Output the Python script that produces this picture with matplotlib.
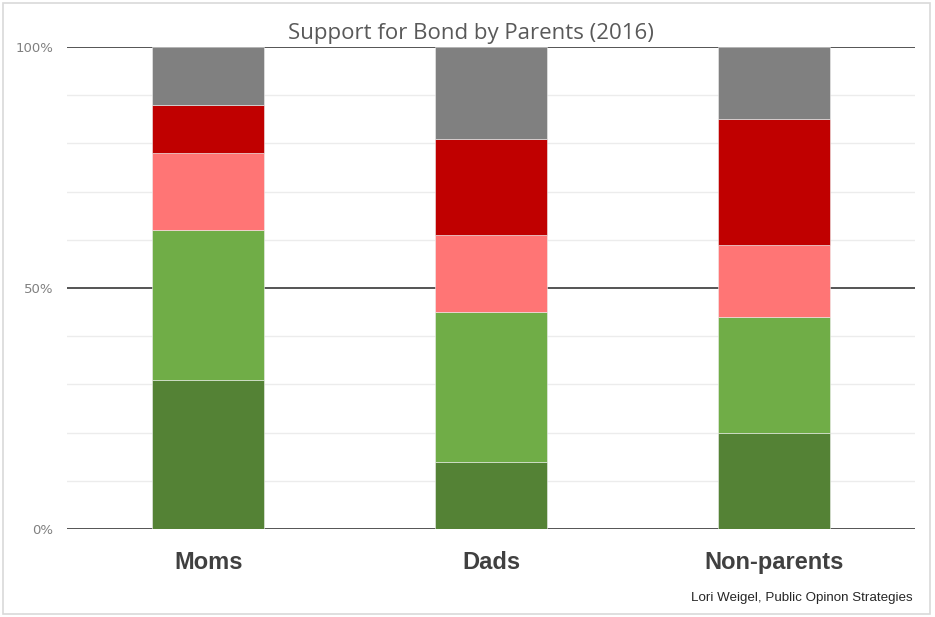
import matplotlib
matplotlib.use("Agg")
import matplotlib.pyplot as plt
from matplotlib.patches import Rectangle
import numpy as np

# Survey data: share of each group (percent), stacked bottom to top
categories = ["Moms", "Dads", "Non-parents"]
strongly_support = [31, 14, 20]
somewhat_support = [31, 31, 24]
somewhat_oppose = [16, 16, 15]
strongly_oppose = [10, 20, 26]
undecided = [12, 19, 15]

series = [strongly_support, somewhat_support, somewhat_oppose, strongly_oppose, undecided]
colors = ["#548235", "#70AD47", "#FF7575", "#C00000", "#808080"]

y_ticks = [0, 50, 100]
y_tick_labels = ["0%", "50%", "100%"]

title = "Support for Bond by Parents (2016)"
source = "Lori Weigel, Public Opinon Strategies"

fig = plt.figure(figsize=(9.35, 6.17), dpi=100)
ax = fig.add_axes([0.0717, 0.1426, 0.9069, 0.7812])

x = np.arange(len(categories))
bottom = np.zeros(len(categories))
for vals, col in zip(series, colors):
    ax.bar(x, vals, bottom=bottom, width=0.396, color=col,
           edgecolor="#eeeeee", linewidth=0.4, zorder=3)
    bottom += np.array(vals)

# light minor gridlines every 10%, dark major lines at 0/50/100
for v in range(10, 100, 10):
    if v != 50:
        ax.axhline(v, color="#ececec", linewidth=1.0, zorder=1)
for v in y_ticks:
    ax.axhline(v, color="#262626", linewidth=1.1, zorder=2)

ax.set_xlim(-0.5, len(categories) - 0.5)
ax.set_ylim(0, 100)
ax.set_yticks(y_ticks)
ax.set_yticklabels(y_tick_labels, fontsize=9.5, color="#808080", family="DejaVu Sans")
ax.tick_params(axis="y", length=0, pad=10)
ax.set_xticks(x)
ax.set_xticklabels(categories, fontsize=17, fontweight="bold", color="#404040",
                   family="Liberation Sans")
ax.tick_params(axis="x", length=0, pad=16)
for s in ax.spines.values():
    s.set_visible(False)

fig.text(0.5035, 1 - 33 / 617, title, ha="center", va="center",
         fontsize=16, color="#595959", family="Open Sans")
fig.text(913 / 935, 1 - 598 / 617, source, ha="right", va="center",
         fontsize=9.6, color="#262626",
         family=["Liberation Sans Narrow", "Liberation Sans"])

# outer chart border
fig.patches.append(Rectangle((3 / 935, 3 / 617), 927 / 935, 611 / 617,
                             transform=fig.transFigure, fill=False,
                             edgecolor="#d9d9d9", linewidth=1.2))

fig.savefig("out.png", dpi=100, facecolor="white")
